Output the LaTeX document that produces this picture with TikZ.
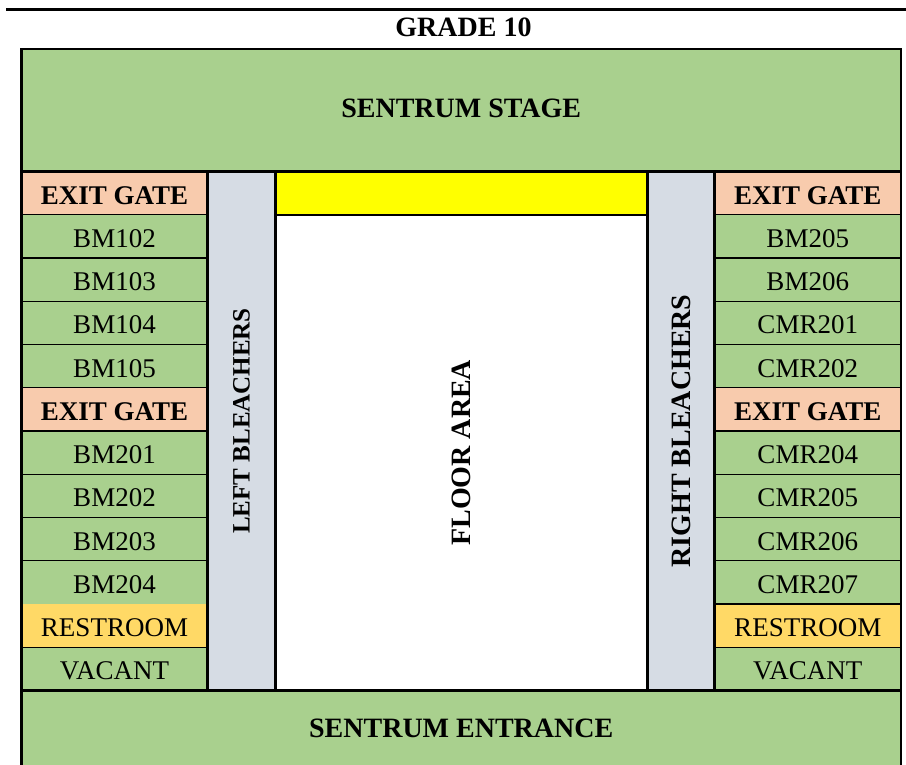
\documentclass[tikz,border=0pt]{standalone}
\usepackage{fontspec}
\setmainfont{Liberation Serif}
\definecolor{cellgreen}{HTML}{A9D08E}
\definecolor{gatepeach}{HTML}{F8CBAD}
\definecolor{bleachgray}{HTML}{D6DCE4}
\definecolor{restyellow}{HTML}{FFD966}
\definecolor{brightyellow}{HTML}{FFFF00}
\begin{document}
\begin{tikzpicture}[x=1pt,y=-1pt,
  cell/.style={rectangle, inner sep=0pt, outer sep=0pt, minimum width=186pt,
    minimum height=43.25pt, fill=cellgreen, text height=22pt, text depth=0pt,
    font=\fontsize{27}{30}\selectfont},
  gate/.style={cell, fill=gatepeach, font=\fontsize{27}{30}\selectfont\bfseries},
  rest/.style={cell, fill=restyellow},
  block/.style={rectangle, inner sep=0pt, outer sep=0pt, draw=black, line width=2.5pt},
  heading/.style={font=\fontsize{28}{32}\selectfont\bfseries, inner sep=0pt},
  sep/.style={line width=1.4pt},
  frame/.style={line width=2.5pt}]
\useasboundingbox (0,0) rectangle (906,764);
% top rule and title
\draw[frame] (6,9.5) -- (906,9.5);
\node[heading] (title) at (463.5,27.5) {GRADE 10};
% stage
\node[block, fill=cellgreen, minimum width=879.5pt, minimum height=122.5pt,
  heading] (stage) at (461.25,110.25) {};
\node[heading] (stagetext) at (461.25,108) {SENTRUM STAGE};
% entrance
\fill[cellgreen] (21.5,690.5) rectangle (901,780);
\node[heading] (entrance) at (461.25,728) {SENTRUM ENTRANCE};
% left column
\foreach \t/\s [count=\i from 0] in {EXIT GATE/gate, BM102/cell, BM103/cell, BM104/cell,
   BM105/cell, EXIT GATE/gate, BM201/cell, BM202/cell, BM203/cell, BM204/cell,
   RESTROOM/rest, VACANT/cell}
  \node[\s] (L\i) at (114.5, {193.125+43.25*\i}) {\t};
% right column
\foreach \t/\s [count=\i from 0] in {EXIT GATE/gate, BM205/cell, BM206/cell, CMR201/cell,
   CMR202/cell, EXIT GATE/gate, CMR204/cell, CMR205/cell, CMR206/cell, CMR207/cell,
   RESTROOM/rest, VACANT/cell}
  \node[\s, minimum width=186.5pt] (R\i) at (807.75, {193.125+43.25*\i}) {\t};
% row separators
\foreach \i in {0,...,8,10}
  \draw[sep] (L\i.south west) -- (L\i.south east);
\foreach \i in {0,...,10}
  \draw[sep] (R\i.south west) -- (R\i.south east);
% central blocks
\node[block, fill=bleachgray, minimum width=68pt, minimum height=519pt] (lb) at (241.5,431) {};
\node[heading, rotate=90, font=\fontsize{25}{30}\selectfont\bfseries] (lbt) at (241.5,421) {LEFT BLEACHERS};
\node[block, fill=bleachgray, minimum width=67pt, minimum height=519pt] (rb) at (681,431) {};
\node[heading, rotate=90] (rbt) at (rb.center) {RIGHT BLEACHERS};
\node[block, fill=brightyellow, minimum width=372pt, minimum height=43.5pt] (yel) at (461.5,193.25) {};
\node[block, fill=white, minimum width=372pt, minimum height=475.5pt] (floor) at (461.5,452.75) {};
\node[heading, rotate=90] (floort) at (floor.center) {FLOOR AREA};
% outer frame
\draw[frame] (21.5,780) -- (21.5,49) -- (901,49) -- (901,780);
\draw[frame] (21.5,171.5) -- (901,171.5);
\draw[frame] (21.5,690.5) -- (901,690.5);
\end{tikzpicture}
\end{document}
